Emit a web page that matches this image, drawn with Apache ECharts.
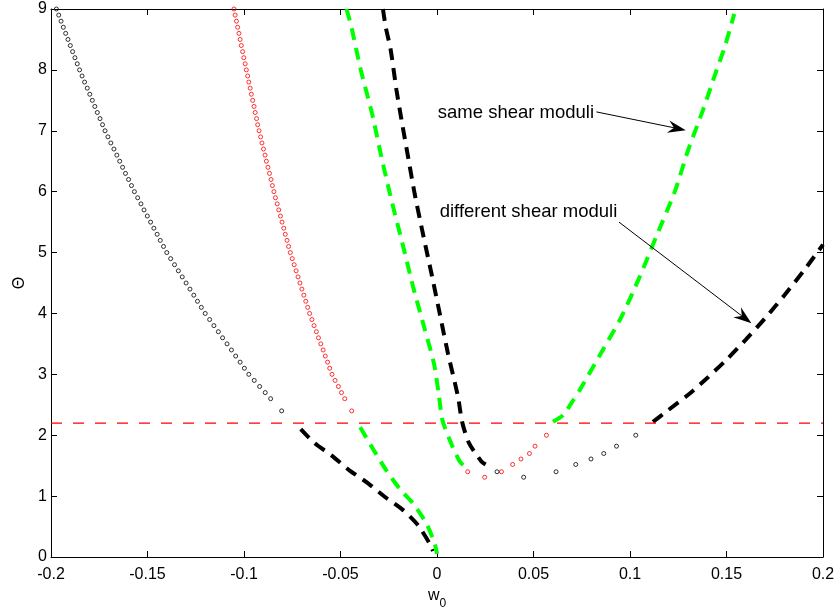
<!DOCTYPE html>
<html>
<head>
<meta charset="utf-8">
<script src="https://cdn.jsdelivr.net/npm/echarts@6/dist/echarts.min.js"></script>
<style>html,body{margin:0;padding:0;background:#fff}#c{width:837px;height:612px}</style>
</head>
<body>
<div id="c"></div>
<script>
// ---- data ----
const xTickLabels = ['-0.2','-0.15','-0.1','-0.05','0','0.05','0.1','0.15','0.2'];
const yTickLabels = ['0','1','2','3','4','5','6','7','8','9'];
const thresholdTheta = 2.2;

// Theta samples of the two dotted descending branches
const thetaDots = [9.0,8.9,8.8,8.7,8.6,8.5,8.4,8.3,8.2,8.1,
  8.0,7.9,7.8,7.7,7.6,7.5,7.4,7.3,7.2,7.1,
  7.0,6.9,6.8,6.7,6.6,6.5,6.4,6.3,6.2,6.1,
  6.0,5.9,5.8,5.7,5.6,5.5,5.4,5.3,5.2,5.1,
  5.0,4.9,4.8,4.7,4.6,4.5,4.4,4.3,4.2,4.1,
  4.0,3.9,3.8,3.7,3.6,3.5,3.4,3.3,3.2,3.1,
  3.0,2.9,2.8,2.7,2.6,2.4];
const blackLeftW = [-0.1972,-0.1960,-0.1948,-0.1936,-0.1924,-0.1912,-0.1900,-0.1888,-0.1876,-0.1864,
  -0.1852,-0.1839,-0.1826,-0.1812,-0.1799,-0.1786,-0.1773,-0.1760,-0.1746,-0.1733,
  -0.1720,-0.1705,-0.1690,-0.1674,-0.1659,-0.1644,-0.1629,-0.1614,-0.1598,-0.1583,
  -0.1568,-0.1551,-0.1534,-0.1518,-0.1501,-0.1484,-0.1467,-0.1450,-0.1434,-0.1417,
  -0.1400,-0.1380,-0.1360,-0.1340,-0.1320,-0.1300,-0.1280,-0.1260,-0.1241,-0.1221,
  -0.1201,-0.1178,-0.1156,-0.1133,-0.1111,-0.1088,-0.1065,-0.1043,-0.1020,-0.0998,
  -0.0975,-0.0947,-0.0919,-0.0890,-0.0862,-0.0805];
const redLeftW = [-0.1052,-0.1046,-0.1039,-0.1033,-0.1026,-0.1020,-0.1014,-0.1007,-0.1001,-0.0994,
  -0.0988,-0.0981,-0.0975,-0.0968,-0.0962,-0.0955,-0.0948,-0.0942,-0.0935,-0.0929,
  -0.0922,-0.0914,-0.0907,-0.0899,-0.0891,-0.0884,-0.0876,-0.0868,-0.0860,-0.0853,
  -0.0845,-0.0837,-0.0828,-0.0820,-0.0811,-0.0803,-0.0794,-0.0786,-0.0777,-0.0769,
  -0.0760,-0.0750,-0.0740,-0.0730,-0.0720,-0.0710,-0.0700,-0.0690,-0.0680,-0.0670,
  -0.0660,-0.0648,-0.0637,-0.0625,-0.0614,-0.0602,-0.0590,-0.0579,-0.0567,-0.0556,
  -0.0544,-0.0528,-0.0511,-0.0495,-0.0478,-0.0442];

// dotted points near the minimum
const redBottom = [[0.0159,1.40],[0.0247,1.31],[0.0334,1.40],[0.0392,1.52],[0.0435,1.61],[0.0479,1.70],[0.0508,1.82],[0.0567,2.00]];
const blackBottom = [[0.0311,1.40],[0.0449,1.31],[0.0617,1.40],[0.0719,1.52],[0.0798,1.61],[0.0864,1.70],[0.0930,1.82],[0.1030,2.00]];

// dashed branches
const greenUpper = [[-0.0469,9.0],[-0.0444,8.71],[-0.0395,8.0],[-0.0337,7.29],[-0.0288,6.57],[-0.0236,5.86],[-0.0179,5.15],[-0.0124,4.44],[-0.0067,3.78],[-0.0016,3.18],[0.0008,2.70],[0.0028,2.25],[0.0066,1.92],[0.0114,1.59],[0.0135,1.51]];
const greenLower = [[-0.0398,2.13],[-0.0323,1.73],[-0.0262,1.42],[-0.0193,1.12],[-0.0124,0.88],[-0.0055,0.55],[-0.0012,0.22],[0.0000,0.05]];
const greenRight = [[0.0601,2.22],[0.0653,2.33],[0.0705,2.57],[0.0739,2.74],[0.0839,3.29],[0.0955,3.94],[0.1050,4.60],[0.1137,5.27],[0.1232,6.00],[0.1301,6.68],[0.1378,7.34],[0.1448,7.99],[0.1491,8.38],[0.1534,8.85],[0.1540,8.92]];
const blackUpper = [[-0.0280,9.0],[-0.0266,8.71],[-0.0240,8.33],[-0.0210,7.67],[-0.0184,7.18],[-0.0147,6.52],[-0.0116,5.97],[-0.0073,5.31],[-0.0029,4.66],[0.0014,4.0],[0.0057,3.34],[0.0109,2.63],[0.0130,2.22],[0.0166,1.87],[0.0230,1.57],[0.0252,1.52]];
const blackLower = [[-0.0706,2.10],[-0.0634,1.87],[-0.0547,1.67],[-0.0452,1.42],[-0.0357,1.21],[-0.0271,0.99],[-0.0176,0.77],[-0.0098,0.52],[-0.0038,0.22],[-0.0021,0.10]];
const blackRight = [[0.1119,2.22],[0.1197,2.41],[0.1300,2.66],[0.1400,2.94],[0.1500,3.24],[0.1600,3.57],[0.1700,3.92],[0.1800,4.30],[0.1900,4.70],[0.2000,5.13]];

const annotations = [
  {text:'same shear moduli', at:[0.0004,7.29], tail:[0.0826,7.31], tip:[0.1289,7.01]},
  {text:'different shear moduli', at:[0.0014,5.66], tail:[0.0943,5.50], tip:[0.1629,3.84]}
];

// ---- chart ----
const FONT = '"Liberation Sans", Arial, Helvetica, sans-serif';
const chart = echarts.init(document.getElementById('c'), null, {renderer:'canvas'});

function zipW(ws, ts){ return ws.map((w,i)=>[w, ts[i]]); }
function dots(data, color){
  return {type:'scatter', data, symbol:'circle', symbolSize:4, silent:true,
    itemStyle:{color:'rgba(0,0,0,0)', borderColor:color, borderWidth:1}, z:3};
}
function dashed(data, color){
  return {type:'line', data, showSymbol:false, symbol:'none', smooth:0.25, silent:true,
    lineStyle:{color, width:4, type:[12,8], cap:'butt'}, z:2};
}
const axisCommon = {
  axisLine:{show:true, onZero:false, lineStyle:{color:'#000', width:1}},
  axisTick:{show:true, inside:true, length:6, lineStyle:{color:'#000', width:1}},
  splitLine:{show:false}
};

const option = {
  animation:false,
  backgroundColor:'#fff',
  grid:{left:51, right:14, top:9, bottom:55, containLabel:false, outerBoundsMode:'none'},
  xAxis:[
    Object.assign({type:'value', min:-0.2, max:0.2, interval:0.05, position:'bottom',
      name:'{w|w}{s|0}', nameLocation:'middle', nameGap:31,
      nameTextStyle:{color:'#000', fontFamily:FONT, rich:{
        w:{fontSize:16, fontFamily:FONT, color:'#000', verticalAlign:'bottom', padding:[0,0,6,0]},
        s:{fontSize:12, fontFamily:FONT, color:'#000', verticalAlign:'bottom'}}},
      axisLabel:{color:'#000', fontSize:16, fontFamily:FONT, margin:10,
        formatter:v=>xTickLabels[Math.round((v+0.2)/0.05)]}}, axisCommon),
    Object.assign({type:'value', min:-0.2, max:0.2, interval:0.05, position:'top',
      axisLabel:{show:false}}, axisCommon)
  ],
  yAxis:[
    Object.assign({type:'value', min:0, max:9, interval:1, position:'left',
      name:'Θ', nameLocation:'middle', nameGap:23, nameRotate:90,
      nameTextStyle:{color:'#000', fontSize:16, fontFamily:FONT},
      axisLabel:{color:'#000', fontSize:16, fontFamily:FONT, margin:4,
        formatter:v=>yTickLabels[Math.round(v)]}}, axisCommon),
    Object.assign({type:'value', min:0, max:9, interval:1, position:'right',
      axisLabel:{show:false}}, axisCommon)
  ],
  series:[
    dots(zipW(blackLeftW, thetaDots), '#000'),
    dots(zipW(redLeftW, thetaDots), '#ff0000'),
    dots(redBottom, '#ff0000'),
    dots(blackBottom, '#000'),
    dashed(blackUpper, '#000'),
    dashed(blackLower, '#000'),
    dashed(blackRight, '#000'),
    dashed(greenUpper, '#00ff00'),
    dashed(greenLower, '#00ff00'),
    dashed(greenRight, '#00ff00'),
    {type:'line', data:[[-0.2,thresholdTheta],[0.2,thresholdTheta]], showSymbol:false, symbol:'none', silent:true,
      lineStyle:{color:'#ff0000', width:1.3, type:[11,11]}, z:4}
  ]
};
chart.setOption(option);

// annotations with arrows
const g = [];
annotations.forEach(a=>{
  const p = chart.convertToPixel({seriesIndex:0}, a.at);
  const t = chart.convertToPixel({seriesIndex:0}, a.tail);
  const h = chart.convertToPixel({seriesIndex:0}, a.tip);
  g.push({type:'text', style:{text:a.text, x:p[0], y:p[1], fill:'#000', font:'18.5px '+FONT, verticalAlign:'middle', align:'left'}, z:10});
  const dx = h[0]-t[0], dy = h[1]-t[1], len = Math.hypot(dx,dy);
  const ux = dx/len, uy = dy/len, nx = -uy, ny = ux;
  const L = 18, H = 6.3, N = 12;
  g.push({type:'line', shape:{x1:t[0], y1:t[1], x2:h[0]-N*ux, y2:h[1]-N*uy}, style:{stroke:'#000', lineWidth:1}, z:10});
  g.push({type:'polygon', shape:{points:[
    [h[0],h[1]],
    [h[0]-L*ux+H*nx, h[1]-L*uy+H*ny],
    [h[0]-N*ux, h[1]-N*uy],
    [h[0]-L*ux-H*nx, h[1]-L*uy-H*ny]]}, style:{fill:'#000'}, z:10});
});
chart.setOption({graphic:g});
</script>
</body>
</html>
